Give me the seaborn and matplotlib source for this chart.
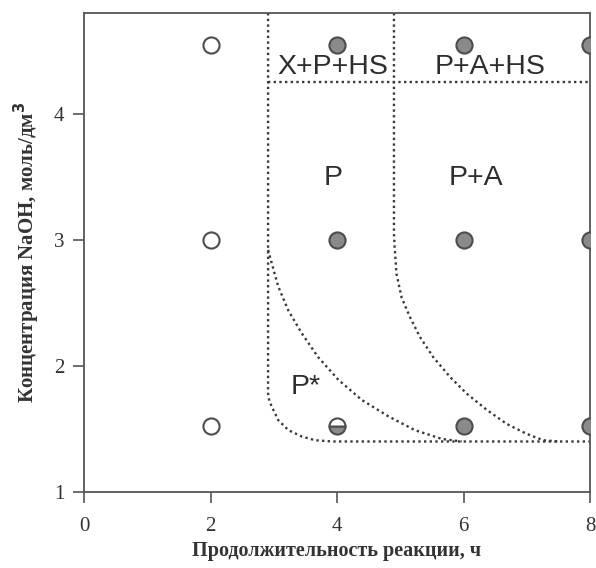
import numpy as np
import pandas as pd
import seaborn as sns
import matplotlib.pyplot as plt

# Experimental points (reaction time, h / NaOH concentration, mol/dm3)
open_time = [2, 2, 2]
open_conc = [1.52, 3.0, 4.55]
filled_time = [4, 4, 6, 6, 6, 8, 8, 8]
filled_conc = [4.55, 3.0, 4.55, 3.0, 1.52, 4.55, 3.0, 1.52]
half_time = [4]
half_conc = [1.52]

# Phase-region boundaries
left_x = [2.91, 2.91, 2.93, 2.97, 3.07, 3.23, 3.44, 3.65, 3.92, 8.0]
left_y = [4.8, 1.78, 1.72, 1.675, 1.57, 1.49, 1.44, 1.41, 1.40, 1.40]
mid_x = [2.91, 2.97, 3.07, 3.23, 3.44, 3.70, 4.02, 4.39, 4.81, 5.23, 5.66, 5.97]
mid_y = [2.92, 2.81, 2.63, 2.44, 2.26, 2.07, 1.89, 1.73, 1.60, 1.49, 1.42, 1.40]
right_x = [4.9, 4.9, 4.91, 4.94, 5.02, 5.15, 5.31, 5.52, 5.79, 6.05, 6.37, 6.68, 7.0, 7.26, 7.5]
right_y = [4.8, 3.05, 2.95, 2.73, 2.545, 2.39, 2.23, 2.07, 1.91, 1.78, 1.65, 1.54, 1.46, 1.41, 1.40]
top_x = [2.91, 8.0]
top_y = [4.25, 4.25]

region_labels = ["X+P+HS", "P+A+HS", "P", "P+A", "P*"]
region_x = [3.93, 6.42, 3.94, 6.2, 3.5]
region_y = [4.37, 4.37, 3.49, 3.49, 1.83]

sns.set_style("ticks")
fig = plt.figure(figsize=(5.96, 5.68), dpi=100)
ax = fig.add_axes([0.141, 0.134, 0.849, 0.843])

edge = "#4d4d4d"
gray = "#8a8a8a"
dot = dict(color="#3a3a3a", linestyle=(0, (1, 1.4)), linewidth=1.7)

for bx, by in [(left_x, left_y), (mid_x, mid_y), (right_x, right_y), (top_x, top_y)]:
    ax.plot(bx, by, **dot)

sns.scatterplot(x=open_time, y=open_conc, ax=ax, s=135, color="white",
                edgecolor=edge, linewidth=1.5, zorder=5)
sns.scatterplot(x=filled_time, y=filled_conc, ax=ax, s=135, color=gray,
                edgecolor=edge, linewidth=1.5, zorder=5)
ax.plot(half_time, half_conc, "o", markersize=11.6, fillstyle="bottom",
        markerfacecolor=gray, markerfacecoloralt="white",
        markeredgecolor=edge, markeredgewidth=1.5, zorder=5)

for lab, tx, ty in zip(region_labels, region_x, region_y):
    ax.text(tx, ty, lab, ha="center", va="center", fontsize=20.5,
            family="Liberation Sans", color="#2e2e2e", zorder=6)

ax.set_xlim(0, 8)
ax.set_ylim(1, 4.8)
ax.set_xticks([0, 2, 4, 6, 8])
ax.set_yticks([1, 2, 3, 4])

for sp in ax.spines.values():
    sp.set_color("#555555")
    sp.set_linewidth(1.3)
ax.tick_params(direction="out", length=8, width=1.2, color="#555555",
               labelsize=15, labelcolor="#333333", pad=6)
ax.tick_params(axis="x", pad=10)
for t in ax.get_xticklabels() + ax.get_yticklabels():
    t.set_family("Liberation Serif")

ax.set_xlabel("Продолжительность реакции, ч", family="Liberation Serif",
              fontweight="bold", fontsize=14.5, color="#333333", labelpad=4)
ax.set_ylabel("Концентрация NaOH, моль/дм$^\\mathbf{3}$", family="Liberation Serif",
              fontweight="bold", fontsize=15, color="#333333", labelpad=9)

fig.savefig("out.png", dpi=100)
